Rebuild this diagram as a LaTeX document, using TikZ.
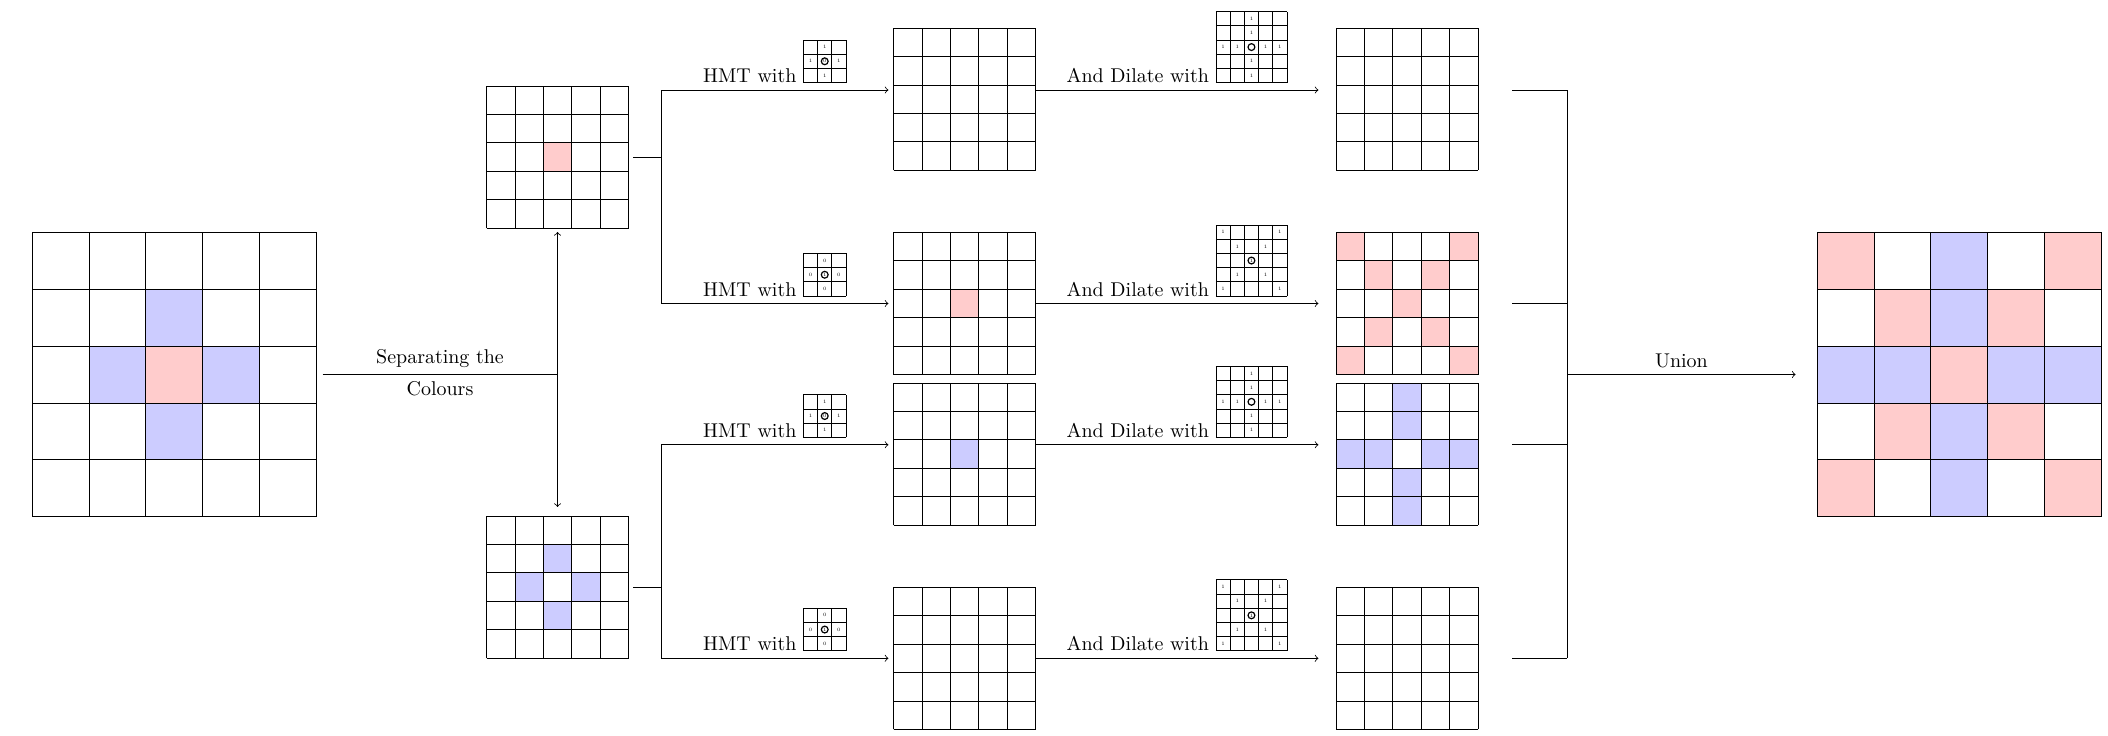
\documentclass[tikz,border=0pt]{standalone}
\usetikzlibrary{calc}

\colorlet{redcell}{red!20}
\colorlet{bluecell}{blue!20}

\tikzset{
    frame/.style={inner sep=0pt, outer sep=0pt, minimum size=#1},
    link/.style={->},
    steplabel/.style={above},
    tinydigit/.style={inner sep=0pt, anchor=center, font=\fontsize{2.5}{3}\selectfont},
}

% 5x5 board: name, south west corner, cell size, coloured cells col/row/colour
\newcommand{\board}[4]{%
    \begin{scope}[shift={#2}, x=#3, y=#3]
        \foreach \col/\row/\tint in {#4}
            \fill[fill=\tint] (\col,4-\row) rectangle ++(1,1);
        \draw (0,0) grid[step=1] (5,5);
        \node[frame=5*#3] (#1) at (2.5,2.5) {};
    \end{scope}}

% structuring element: size, marks col/row/digit, centre digit
\newcommand{\kernel}[3]{%
    \tikz[baseline=0pt, x=0.25cm, y=0.25cm, -]{%
        \draw (0,0) grid[step=1] (#1,#1);
        \foreach \col/\row/\digit in {#2}
            \node[tinydigit] at (\col+0.5,#1-\row-0.5) {\digit};
        \draw[line width=0.6pt] (#1/2,#1/2) circle (0.24);
        \node[tinydigit] at (#1/2,#1/2) {#3};}}

\begin{document}
\begin{tikzpicture}
    \useasboundingbox (0,0) rectangle (37.11,-12.94);

    % input and the two colour layers
    \board{source}{(0.568,-9.093)}{1cm}{2/1/bluecell, 1/2/bluecell, 2/2/redcell, 3/2/bluecell, 2/3/bluecell}
    \board{redpart}{(8.565,-4.014)}{0.5cm}{2/2/redcell}
    \board{bluepart}{(8.565,-11.585)}{0.5cm}{2/1/bluecell, 1/2/bluecell, 3/2/bluecell, 2/3/bluecell}

    % hit or miss results
    \board{hmtA}{(15.73,-2.997)}{0.5cm}{}
    \board{hmtB}{(15.73,-6.593)}{0.5cm}{2/2/redcell}
    \board{hmtC}{(15.73,-9.243)}{0.5cm}{2/2/bluecell}
    \board{hmtD}{(15.73,-12.839)}{0.5cm}{}

    % dilated results
    \board{dilA}{(23.52,-2.997)}{0.5cm}{}
    \board{dilB}{(23.52,-6.593)}{0.5cm}{0/0/redcell, 4/0/redcell, 1/1/redcell, 3/1/redcell, 2/2/redcell, 1/3/redcell, 3/3/redcell, 0/4/redcell, 4/4/redcell}
    \board{dilC}{(23.52,-9.243)}{0.5cm}{2/0/bluecell, 2/1/bluecell, 0/2/bluecell, 1/2/bluecell, 3/2/bluecell, 4/2/bluecell, 2/3/bluecell, 2/4/bluecell}
    \board{dilD}{(23.52,-12.839)}{0.5cm}{}

    % union
    \board{result}{(31.99,-9.093)}{1cm}{0/0/redcell, 4/0/redcell, 1/1/redcell, 3/1/redcell, 2/2/redcell, 1/3/redcell, 3/3/redcell, 0/4/redcell, 4/4/redcell, 2/0/bluecell, 2/1/bluecell, 0/2/bluecell, 1/2/bluecell, 3/2/bluecell, 4/2/bluecell, 2/3/bluecell, 2/4/bluecell}

    \coordinate (fork) at (redpart |- source);
    \coordinate (redfork) at (11.64,0 |- redpart);
    \coordinate (bluefork) at (11.64,0 |- bluepart);
    \coordinate (laneA) at (0,-1.585);
    \coordinate (laneC) at (0,-7.83);
    \coordinate (joint) at (27.59,0 |- source);

    % separating
    \draw ($(source.east)+(0.11,0)$) -- node[above] {Separating the} node[below] {Colours} (fork);
    \draw[link, shorten >=0.07cm] (fork) -- (redpart.south);
    \draw[link, shorten >=0.16cm] (fork) -- (bluepart.north);

    % forks
    \draw[shorten <=0.08cm] (redpart.east) -- (redfork);
    \draw[shorten <=0.08cm] (bluepart.east) -- (bluefork);
    \draw (redfork |- laneA) -- (redfork |- hmtB);
    \draw (bluefork |- laneC) -- (bluefork |- hmtD);

    % hit or miss
    \draw[link] (redfork |- laneA) -- node[steplabel] {HMT with \kernel{3}{1/0/1, 0/1/1, 2/1/1, 1/2/1}{0}} ($(hmtA.west |- laneA)+(-0.09,0)$);
    \draw[link] (redfork |- hmtB) -- node[steplabel] {HMT with \kernel{3}{1/0/0, 0/1/0, 2/1/0, 1/2/0}{1}} ($(hmtB.west)+(-0.09,0)$);
    \draw[link] (bluefork |- laneC) -- node[steplabel] {HMT with \kernel{3}{1/0/1, 0/1/1, 2/1/1, 1/2/1}{0}} ($(hmtC.west |- laneC)+(-0.09,0)$);
    \draw[link] (bluefork |- hmtD) -- node[steplabel] {HMT with \kernel{3}{1/0/0, 0/1/0, 2/1/0, 1/2/0}{1}} ($(hmtD.west)+(-0.09,0)$);

    % dilation
    \draw[link] (hmtA.east |- laneA) -- node[steplabel] {And Dilate with \kernel{5}{2/0/1, 2/1/1, 0/2/1, 1/2/1, 3/2/1, 4/2/1, 2/3/1, 2/4/1}{}} ($(dilA.west |- laneA)+(-0.31,0)$);
    \draw[link] (hmtB.east) -- node[steplabel] {And Dilate with \kernel{5}{0/0/1, 4/0/1, 1/1/1, 3/1/1, 1/3/1, 3/3/1, 0/4/1, 4/4/1}{1}} ($(dilB.west)+(-0.31,0)$);
    \draw[link] (hmtC.east |- laneC) -- node[steplabel] {And Dilate with \kernel{5}{2/0/1, 2/1/1, 0/2/1, 1/2/1, 3/2/1, 4/2/1, 2/3/1, 2/4/1}{}} ($(dilC.west |- laneC)+(-0.31,0)$);
    \draw[link] (hmtD.east) -- node[steplabel] {And Dilate with \kernel{5}{0/0/1, 4/0/1, 1/1/1, 3/1/1, 1/3/1, 3/3/1, 0/4/1, 4/4/1}{1}} ($(dilD.west)+(-0.31,0)$);

    % joining
    \draw[shorten <=0.6cm] (dilA.east |- laneA) -- (joint |- laneA);
    \draw[shorten <=0.6cm] (dilB.east) -- (joint |- dilB);
    \draw[shorten <=0.6cm] (dilC.east |- laneC) -- (joint |- laneC);
    \draw[shorten <=0.6cm] (dilD.east) -- (joint |- dilD);
    \draw (joint |- laneA) -- (joint |- dilD);
    \draw[link] (joint) -- node[above] {Union} ($(result.west)+(-0.38,0)$);
\end{tikzpicture}
\end{document}
